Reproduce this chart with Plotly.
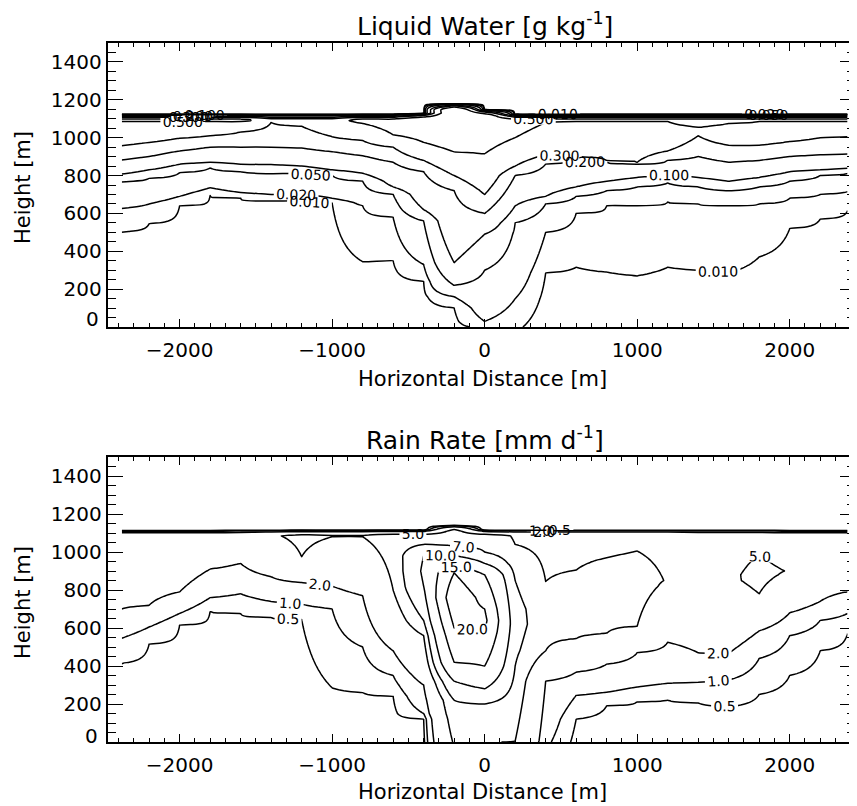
import numpy as np
import plotly.graph_objects as go

nan = float("nan")

# ---------------- data ----------------
# model columns (horizontal distance, m)
X_COLS = [-2380, -2200, -2000, -1800, -1600, -1400, -1200, -1000, -800, -600, -400, -200, 0,
          200, 400, 600, 800, 1000, 1200, 1400, 1600, 1800, 2000, 2200, 2380]

# Liquid water [g/kg]: height (m) where each level is crossed going upward in each column
LW_LEVELS = [0.01, 0.02, 0.05, 0.1, 0.2, 0.3, 0.5]
lw_001 = [503, 545, 640, 695, 680, 665, 675, 655, 345, 350, 240, 100, -10, -30, 285, 315, 290, 270, 315, 300, 285, 370, 520, 570, 615]
lw_002 = [627, 650, 690, 735, 710, 700, 700, 680, 640, 580, 330, 160, 30, 150, 500, 600, 640, 640, 660, 650, 640, 650, 680, 700, 715]
lw_005 = [768, 785, 815, 840, 820, 810, 810, 800, 770, 700, 560, 220, 300, 550, 650, 690, 720, 740, 760, 740, 720, 740, 770, 800, 812]
lw_010 = [808, 830, 860, 870, 860, 858, 850, 830, 812, 740, 620, 340, 490, 640, 690, 740, 770, 790, 805, 790, 770, 790, 820, 830, 838]
lw_020 = [882, 900, 930, 950, 950, 950, 945, 926, 905, 870, 820, 720, 600, 800, 860, 880, 870, 860, 880, 900, 870, 880, 900, 910, 914]
lw_030 = [958, 975, 997, 1010, 1030, 1080, 1060, 1005, 985, 950, 880, 800, 700, 850, 910, 900, 880, 870, 930, 1010, 960, 960, 980, 1000, 1005]
lw_050 = [1085, 1085, 1085, 1085, 1085, nan, nan, nan, 1075, 1015, 975, 925, 915, 1000, 1080, 1085, 1085, 1085, 1085, 1055, 1075, 1085, 1085, 1085, 1085]
lw_peak = [0.6, 0.6, 0.6, 0.6, 0.6, 0.4, 0.4, 0.4, 0.6, 0.6, 0.7, 0.9, 0.7, 0.6, 0.6, 0.6, 0.6, 0.6, 0.6, 0.6, 0.6, 0.6, 0.6, 0.6, 0.6]
lw_top = [1105, 1105, 1105, 1105, 1105, 1105, 1105, 1105, 1105, 1105, 1112, 1160, 1130, 1105, 1105, 1105, 1105, 1105, 1105, 1105, 1105, 1105, 1105, 1105, 1105]

# Rain rate [mm/d]: rise = height where level is exceeded going up, fall = height where it drops again
RR_LEVELS = [0.5, 1.0, 2.0, 5.0, 7.0, 10.0, 15.0, 20.0]
rr_05_rise = [414, 515, 615, 688, 675, 655, 645, 285, 260, 240, 120, -50, -60, -60, -60, 120, 190, 212, 221, 205, 186, 250, 350, 480, 572]
rr_1_rise = [546, 605, 677, 760, 780, 740, 725, 700, 500, 350, 150, -45, -55, -55, -55, 245, 262, 290, 309, 315, 326, 440, 560, 640, 677]
rr_2_rise = [700, 720, 790, 910, 940, 870, 840, 820, 770, 480, 300, -40, -50, -50, 320, 368, 410, 470, 525, 470, 467, 585, 680, 740, 791]
rr_5_rise = [nan, nan, nan, nan, nan, nan, 975, 1080, 1080, 800, 560, -30, -40, 5, 480, 545, 572, 610, nan, nan, nan, 780, nan, nan, nan]
rr_5_fall = [nan, nan, nan, nan, nan, nan, nan, nan, nan, nan, nan, nan, nan, 1040, 845, 905, 970, 1005, nan, nan, nan, 990, nan, nan, nan]
rr_7_rise = [nan] * 10 + [640, 220, 200, 400] + [nan] * 11
rr_7_fall = [nan] * 10 + [1040, 1030, 1000, 850] + [nan] * 11
rr_10_rise = [nan] * 10 + [820, 320, 280] + [nan] * 12
rr_10_fall = [nan] * 10 + [980, 980, 940] + [nan] * 12
rr_15_rise = [nan] * 11 + [420, 400] + [nan] * 12
rr_15_fall = [nan] * 11 + [930, 880] + [nan] * 12
rr_20_rise = [nan] * 11 + [600, 580] + [nan] * 12
rr_20_fall = [nan] * 11 + [890, 700] + [nan] * 12
rr_peak_h = [nan] * 10 + [900, 760, 640, 620, 700, 720, 780, 820, 850, nan, 850, 880, 900, nan, nan]
rr_peak_v = [nan] * 10 + [10.5, 24.0, 21.0, 8.0, 5.8, 6.0, 6.0, 5.8, 4.9, nan, 4.7, 5.6, 4.9, nan, nan]
rr_top_v = [3.5, 3.5, 3.5, 3.5, 3.8, 4.8, 5.5, 5.2, 5.2, 6, 6, 6, 6, 4.8, 4.5, 4.5, 4.5, 4.5, 4.5, 4.0, 4.0, 4.0, 3.5, 3.5, 3.5]
rr_top = [1100] * 11 + [1125] + [1100] * 13

# axis ticks
X_TICKS = [-2000, -1000, 0, 1000, 2000]
X_TICKTEXT = ["\u22122000", "\u22121000", "0", "1000", "2000"]
Y_TICKS = [0, 200, 400, 600, 800, 1000, 1200, 1400]

# ---------------- build gridded fields ----------------
Y_GRID = np.arange(0, 1501, 5)


def build_field(rises, falls, levels, peak_h, peak_v, top_h, top_v):
    z = np.zeros((len(Y_GRID), len(X_COLS)))
    for j in range(len(X_COLS)):
        kn = [(-300.0, 0.0)]
        for lev, arr in zip(levels, rises):
            if not np.isnan(arr[j]):
                kn.append((float(arr[j]), lev))
        if peak_h is not None and not np.isnan(peak_h[j]):
            kn.append((float(peak_h[j]), float(peak_v[j])))
        for lev, arr in zip(levels, falls):
            if arr is not None and not np.isnan(arr[j]):
                kn.append((float(arr[j]), lev))
        kn.append((top_h[j] - 12.0, float(top_v[j])))
        kn.append((top_h[j] + 18.0, 0.0))
        kn.append((1700.0, 0.0))
        kn.sort(key=lambda t: t[0])
        z[:, j] = np.interp(Y_GRID, [k[0] for k in kn], [k[1] for k in kn])
    return z


lw_z = build_field([lw_001, lw_002, lw_005, lw_010, lw_020, lw_030, lw_050],
                   [None] * 7, LW_LEVELS, None, None, lw_top, lw_peak)
rr_z = build_field([rr_05_rise, rr_1_rise, rr_2_rise, rr_5_rise, rr_7_rise, rr_10_rise, rr_15_rise, rr_20_rise],
                   [None, None, None, rr_5_fall, rr_7_fall, rr_10_fall, rr_15_fall, rr_20_fall],
                   RR_LEVELS, rr_peak_h, rr_peak_v, rr_top, rr_top_v)

FONT = "DejaVu Sans"
fig = go.Figure()


def add_levels(z, levels, fmt, xa, ya):
    for lev in levels:
        fig.add_trace(go.Contour(
            x=X_COLS, y=Y_GRID, z=z, xaxis=xa, yaxis=ya,
            contours=dict(start=lev, end=lev, size=1, coloring="none", showlabels=True,
                          labelfont=dict(family=FONT, size=14, color="black"), labelformat=fmt),
            line=dict(color="black", width=1.5, smoothing=0.5),
            showscale=False, hoverinfo="skip"))


add_levels(lw_z, LW_LEVELS, ".3f", "x", "y")
add_levels(rr_z, RR_LEVELS, ".1f", "x2", "y2")

# page has an 8 px body margin: figure pixel = page pixel - 8
OFF = 8
W, H = 857 - OFF, 806 - OFF


def fx(px):
    return (px - OFF) / W


def fy(py):
    return 1 - (py - OFF) / H


xdom = [fx(108), 1.0]
ydom_top = [fy(327), fy(43)]
ydom_bot = [fy(742), fy(457)]

xax = dict(range=[-2471, 2428], tickvals=X_TICKS, ticktext=X_TICKTEXT, ticks="inside", ticklen=8,
           tickwidth=1.3, tickcolor="black", showline=True, linewidth=2, linecolor="black",
           mirror="allticks", showgrid=False, zeroline=False, domain=xdom,
           tickfont=dict(family=FONT, size=20, color="black"), ticklabelstandoff=4,
           minor=dict(dtick=100, tick0=0, ticks="inside", ticklen=4, tickcolor="black", tickwidth=1))
yax = dict(range=[0, 1500], tickvals=Y_TICKS, ticktext=[""] + [str(v) for v in Y_TICKS[1:]],
           ticks="inside", ticklen=15, tickwidth=1.3, tickcolor="black",
           showline=True, linewidth=2, linecolor="black", mirror="allticks", showgrid=False,
           zeroline=False, tickfont=dict(family=FONT, size=20, color="black"), ticklabelstandoff=0,
           minor=dict(dtick=50, tick0=0, ticks="inside", ticklen=8, tickcolor="black", tickwidth=1))

fig.update_layout(
    width=W, height=H, margin=dict(l=0, r=0, t=0, b=0),
    paper_bgcolor="white", plot_bgcolor="white", showlegend=False,
    xaxis=dict(xax, anchor="y"), yaxis=dict(yax, domain=ydom_top, anchor="x"),
    xaxis2=dict(xax, anchor="y2"), yaxis2=dict(yax, domain=ydom_bot, anchor="x2"),
)

ann = []


def px_ann(text, x, y, size, angle=0):
    ann.append(dict(text=text, x=fx(x), y=fy(y), xref="paper", yref="paper", showarrow=False,
                    xanchor="center", yanchor="middle", textangle=angle,
                    font=dict(family=FONT, size=size, color="black")))


px_ann("Liquid Water [g kg<sup>-1</sup>]", 486, 24, 25)
px_ann("Rain Rate [mm d<sup>-1</sup>]", 486, 438, 25)
px_ann("Horizontal Distance [m]", 484, 379, 21)
px_ann("Horizontal Distance [m]", 484, 792, 21)
px_ann("Height [m]", 23, 187, 21, -90)
px_ann("Height [m]", 23, 602, 21, -90)
px_ann("0", 93, 319, 20)
px_ann("0", 92, 736, 20)
fig.update_layout(annotations=ann)

fig.write_html("out.html")
